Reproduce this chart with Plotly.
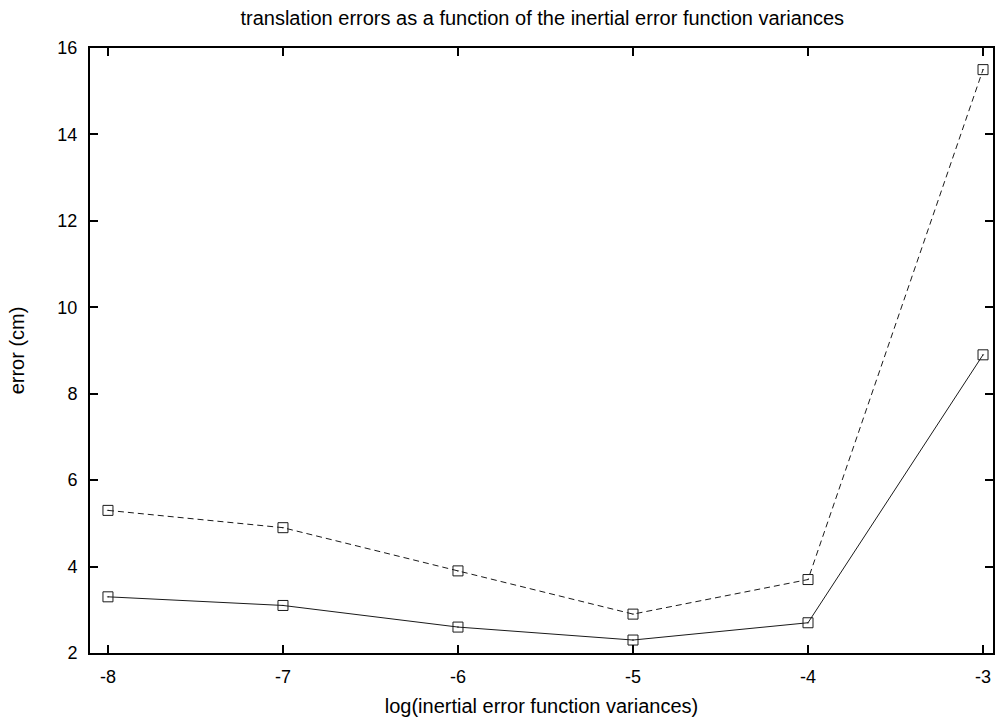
import plotly.graph_objects as go

# log10 of the inertial error function variances
log_variance = [-8, -7, -6, -5, -4, -3]
# translation errors (cm) for the two runs
error_solid = [3.3, 3.1, 2.6, 2.3, 2.7, 8.9]
error_dashed = [5.3, 4.9, 3.9, 2.9, 3.7, 15.5]

x_ticks = [-8, -7, -6, -5, -4, -3]
y_ticks = [2, 4, 6, 8, 10, 12, 14, 16]

FONT = "Liberation Sans, Arial, sans-serif"
INK = "#1a1a1a"

marker = dict(symbol="square-open-dot", size=10, color=INK,
              line=dict(width=1, color=INK))

fig = go.Figure()
fig.add_trace(go.Scatter(x=log_variance, y=error_dashed, mode="lines+markers",
                         line=dict(color=INK, width=1, dash="6px,4px"),
                         marker=marker, showlegend=False))
fig.add_trace(go.Scatter(x=log_variance, y=error_solid, mode="lines+markers",
                         line=dict(color=INK, width=1),
                         marker=marker, showlegend=False))

axis_common = dict(showgrid=False, zeroline=False, showline=True, mirror="ticks",
                   linecolor="black", linewidth=2, ticks="inside", ticklen=8,
                   tickwidth=1.5, tickcolor="black",
                   tickfont=dict(family=FONT, size=18, color="black"))

fig.update_layout(
    width=995, height=719,
    paper_bgcolor="white", plot_bgcolor="white",
    margin=dict(l=90, r=0, t=48, b=66),
    title=dict(text="translation errors as a function of the inertial error function variances",
               x=0.545, xanchor="center", y=0.975, yanchor="middle",
               font=dict(family=FONT, size=20, color="black")),
    xaxis=dict(axis_common, range=[-8.1026, -2.943], tickvals=x_ticks,
               ticktext=[str(v) for v in x_ticks], ticklabelstandoff=6,
               title=dict(text="log(inertial error function variances)", standoff=13,
                          font=dict(family=FONT, size=20, color="black"))),
    yaxis=dict(axis_common, range=[2, 16], tickvals=y_ticks, ticklabelstandoff=7,
               title=dict(text="error (cm)", standoff=27,
                          font=dict(family=FONT, size=20, color="black"))),
)

fig.write_html("out.html")
